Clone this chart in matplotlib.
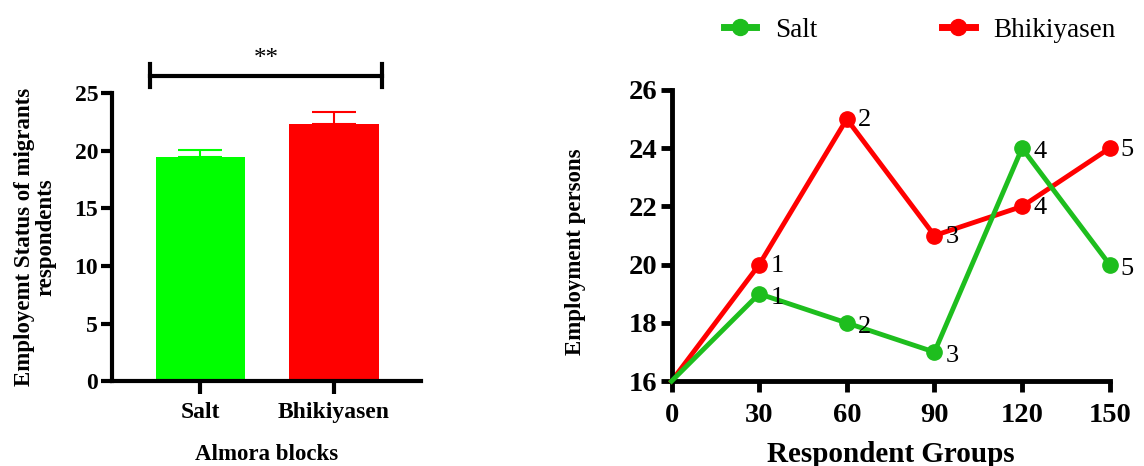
import matplotlib
matplotlib.use("Agg")
import matplotlib.pyplot as plt
from matplotlib.lines import Line2D

plt.rcParams['font.family'] = ['Liberation Serif', 'DejaVu Serif']

# Bar chart data
blocks = ["Salt", "Bhikiyasen"]
bar_means = [19.5, 22.3]
bar_errs = [0.6, 1.1]
bar_colors = ["#00ff00", "#ff0000"]

# Line chart data
groups = [0, 30, 60, 90, 120, 150]
salt_vals = [16, 19, 18, 17, 24, 20]
bhik_vals = [16, 20, 25, 21, 22, 24]
point_labels = ["", "1", "2", "3", "4", "5"]
line_green = "#1ebe1e"
line_red = "#ff0000"

fig = plt.figure(figsize=(11.44, 4.66), dpi=100)

# ---------- Left: bar chart ----------
ax1 = fig.add_axes([0.098, 0.182, 0.27, 0.618])
xpos = [0, 1]
ax1.bar(xpos, bar_means, width=0.67, color=bar_colors, zorder=2)
for x, m, e, c in zip(xpos, bar_means, bar_errs, bar_colors):
    ax1.errorbar([x], [m], yerr=[[0], [e]], fmt='none', ecolor=c,
                 elinewidth=1.5, capsize=16, capthick=1.5, zorder=3)
ax1.set_xlim(-0.66, 1.65)
ax1.set_ylim(0, 25)
ax1.set_yticks([0, 5, 10, 15, 20, 25])
ax1.set_xticks(xpos)
ax1.set_xticklabels(blocks)
for s in ["top", "right"]:
    ax1.spines[s].set_visible(False)
for s in ["left", "bottom"]:
    ax1.spines[s].set_linewidth(3)
ax1.tick_params(axis='y', width=3, length=8, labelsize=17, pad=2)
ax1.tick_params(axis='x', width=3, length=9, labelsize=17, pad=6)
for lbl in ax1.get_xticklabels() + ax1.get_yticklabels():
    lbl.set_fontweight('bold')
ax1.set_xlabel("Almora blocks", fontsize=16.5, fontweight='bold', labelpad=15)
ax1.set_ylabel("Employemt Status of migrants\nrespondents", fontsize=16.5,
               fontweight='bold', labelpad=13, linespacing=1.0)
# significance bracket
ysig = 26.5
ax1.plot([-0.38, 1.36], [ysig, ysig], color='black', lw=3, clip_on=False)
ax1.plot([-0.38, -0.38], [ysig - 1.0, ysig + 1.0], color='black', lw=3, clip_on=False)
ax1.plot([1.36, 1.36], [ysig - 1.0, ysig + 1.0], color='black', lw=3, clip_on=False)
ax1.text(0.49, ysig + 0.5, "**", ha='center', va='bottom', fontsize=18, clip_on=False)

# ---------- Right: line chart ----------
ax2 = fig.add_axes([0.587, 0.182, 0.383, 0.625])
ax2.plot(groups, salt_vals, color=line_green, lw=3.5, clip_on=False, zorder=3)
ax2.plot(groups[1:], salt_vals[1:], 'o', color=line_green, ms=11, clip_on=False, zorder=4)
ax2.plot(groups, bhik_vals, color=line_red, lw=3.5, clip_on=False, zorder=2)
ax2.plot(groups[1:], bhik_vals[1:], 'o', color=line_red, ms=11, clip_on=False, zorder=2)
for x, y, t in zip(groups, salt_vals, point_labels):
    if t:
        ax2.annotate(t, (x, y), xytext=(8, -3), textcoords='offset points',
                     ha='left', va='center', fontsize=19, annotation_clip=False)
for x, y, t in zip(groups, bhik_vals, point_labels):
    if t:
        ax2.annotate(t, (x, y), xytext=(8, -1), textcoords='offset points',
                     ha='left', va='center', fontsize=19, annotation_clip=False)
ax2.set_xlim(0, 150)
ax2.set_ylim(16, 26)
ax2.set_xticks(groups)
ax2.set_yticks([16, 18, 20, 22, 24, 26])
for s in ["top", "right"]:
    ax2.spines[s].set_visible(False)
for s in ["left", "bottom"]:
    ax2.spines[s].set_linewidth(3.5)
ax2.tick_params(axis='both', width=3.5, length=8, labelsize=20.5, pad=2)
ax2.tick_params(axis='x', pad=8)
for lbl in ax2.get_xticklabels() + ax2.get_yticklabels():
    lbl.set_fontweight('bold')
ax2.set_xlabel("Respondent Groups", fontsize=21, fontweight='bold', labelpad=9)
ax2.set_ylabel("Employment persons", fontsize=16.5, fontweight='bold')
ax2.yaxis.set_label_coords(-0.195, 0.443)

# legend
h1 = Line2D([0], [0], color=line_green, lw=5, marker='o', ms=11.5)
h2 = Line2D([0], [0], color=line_red, lw=5, marker='o', ms=11.5)
fig.legend([h1, h2], ["Salt", "Bhikiyasen"], loc='center', bbox_to_anchor=(0.804, 0.935),
           ncol=2, frameon=False, fontsize=19.5, handlelength=1.2, columnspacing=4.6,
           handletextpad=0.7)

fig.savefig("out.png", dpi=100)
